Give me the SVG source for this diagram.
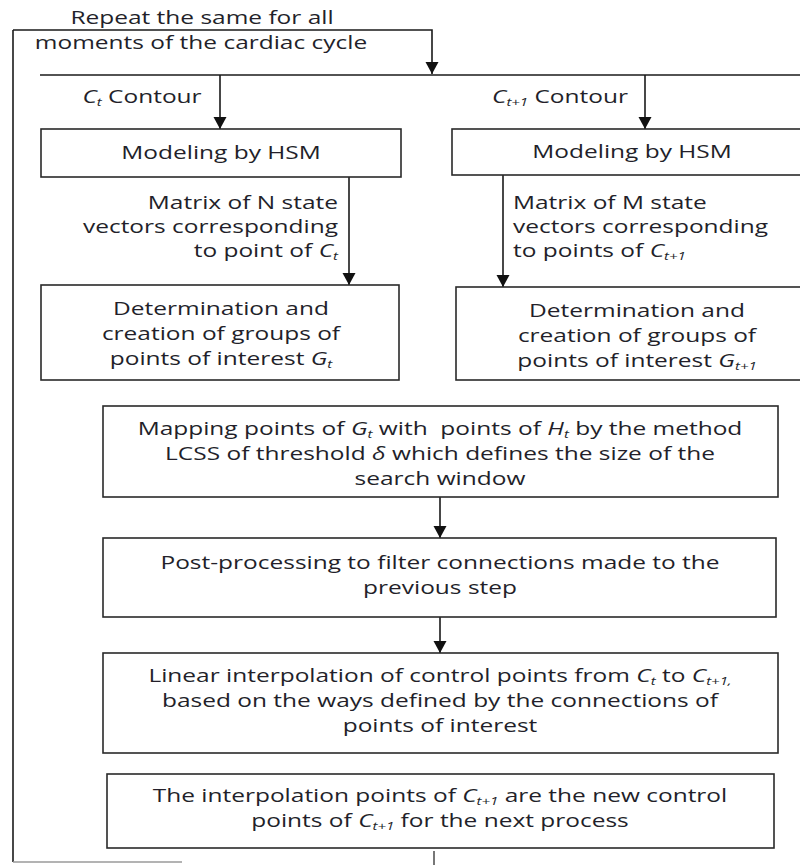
<svg xmlns="http://www.w3.org/2000/svg" width="800" height="865" viewBox="0 0 800 865">
<style>
.box{fill:#fff;stroke:#2a2a2a;stroke-width:1.6}
.ln{fill:none;stroke:#1a1a1a;stroke-width:1.6}
.t{font-family:"Open Sans","DejaVu Sans",sans-serif;font-size:18px;fill:#231f2a}
.m{text-anchor:middle}
.e{text-anchor:end}
.i{font-style:italic}
.s{font-style:italic;font-size:11px;baseline-shift:-3px}
</style>
<defs>
<marker id="ah" markerUnits="userSpaceOnUse" markerWidth="14" markerHeight="14" refX="12" refY="6.5" orient="auto">
<path d="M0,0 L12,6.5 L0,13 z" fill="#111"/>
</marker>
</defs>
<rect width="800" height="865" fill="#fff"/>
<g id="connectors">
<path class="ln" d="M13 30 H432 V74" marker-end="url(#ah)"/>
<path class="ln" d="M13 30 V862"/>
<path d="M13 862 H182" stroke="#9a9a9a" stroke-width="1.6" fill="none"/>
<path class="ln" d="M40 75 H800"/>
<path class="ln" d="M220 75 V129" marker-end="url(#ah)"/>
<path class="ln" d="M645 75 V129" marker-end="url(#ah)"/>
<path class="ln" d="M349 177 V285" marker-end="url(#ah)"/>
<path class="ln" d="M503 175 V287" marker-end="url(#ah)"/>
<path class="ln" d="M440 497 V538" marker-end="url(#ah)"/>
<path class="ln" d="M440 617 V653" marker-end="url(#ah)"/>
<path d="M434 851 V865" stroke="#555" stroke-width="1.6" fill="none"/>
</g>
<g id="loop-label">
<text class="t m" transform="translate(202 24) scale(1.36 1)"><tspan x="0">Repeat the same for all</tspan></text>
<text class="t m" transform="translate(201 49) scale(1.36 1)"><tspan x="0">moments of the cardiac cycle</tspan></text>
</g>
<g id="label-ct">
<text class="t m" transform="translate(142 103) scale(1.36 1)"><tspan class="i">C</tspan><tspan class="s">t</tspan> Contour</text>
</g>
<g id="label-ct1">
<text class="t m" transform="translate(560 103) scale(1.36 1)"><tspan class="i">C</tspan><tspan class="s">t+1</tspan> Contour</text>
</g>
<g id="hsm-left">
<rect class="box" x="41" y="129" width="360" height="48"/>
<text class="t m" transform="translate(221 159) scale(1.36 1)">Modeling by HSM</text>
</g>
<g id="hsm-right">
<rect class="box" x="452" y="129" width="360" height="46"/>
<text class="t m" transform="translate(632 158) scale(1.36 1)">Modeling by HSM</text>
</g>
<g id="label-matrix-n">
<text class="t e" transform="translate(338 209) scale(1.36 1)"><tspan x="0">Matrix of N state</tspan><tspan x="0" dy="24">vectors corresponding</tspan><tspan x="0" dy="24">to point of <tspan class="i">C</tspan><tspan class="s">t</tspan></tspan></text>
</g>
<g id="label-matrix-m">
<text class="t" transform="translate(513 209) scale(1.36 1)"><tspan x="0">Matrix of M state</tspan><tspan x="0" dy="24">vectors corresponding</tspan><tspan x="0" dy="24">to points of <tspan class="i">C</tspan><tspan class="s">t+1</tspan></tspan></text>
</g>
<g id="groups-left">
<rect class="box" x="41" y="285" width="358" height="95"/>
<text class="t m" transform="translate(221 315) scale(1.36 1)"><tspan x="0">Determination and</tspan><tspan x="0" dy="25">creation of groups of</tspan><tspan x="0" dy="25">points of interest <tspan class="i">G</tspan><tspan class="s">t</tspan></tspan></text>
</g>
<g id="groups-right">
<rect class="box" x="456" y="287" width="362" height="93"/>
<text class="t m" transform="translate(637 317) scale(1.36 1)"><tspan x="0">Determination and</tspan><tspan x="0" dy="25">creation of groups of</tspan><tspan x="0" dy="25">points of interest <tspan class="i">G</tspan><tspan class="s">t+1</tspan></tspan></text>
</g>
<g id="mapping">
<rect class="box" x="103" y="406" width="675" height="91"/>
<text class="t m" transform="translate(440 435) scale(1.36 1)"><tspan x="0">Mapping points of <tspan class="i">G</tspan><tspan class="s">t</tspan> with&#160; points of <tspan class="i">H</tspan><tspan class="s">t</tspan> by the method</tspan><tspan x="0" dy="25">LCSS of threshold <tspan class="i">δ</tspan> which defines the size of the</tspan><tspan x="0" dy="25">search window</tspan></text>
</g>
<g id="post-processing">
<rect class="box" x="103" y="538" width="673" height="79"/>
<text class="t m" transform="translate(440 569) scale(1.36 1)"><tspan x="0">Post-processing to filter connections made to the</tspan><tspan x="0" dy="25">previous step</tspan></text>
</g>
<g id="interpolation">
<rect class="box" x="103" y="653" width="675" height="100"/>
<text class="t m" transform="translate(440 682) scale(1.36 1)"><tspan x="0">Linear interpolation of control points from <tspan class="i">C</tspan><tspan class="s">t</tspan> to <tspan class="i">C</tspan><tspan class="s">t+1,</tspan></tspan><tspan x="0" dy="25">based on the ways defined by the connections of</tspan><tspan x="0" dy="25">points of interest</tspan></text>
</g>
<g id="new-control-points">
<rect class="box" x="107" y="774" width="667" height="74"/>
<text class="t m" transform="translate(440 802) scale(1.36 1)"><tspan x="0">The interpolation points of <tspan class="i">C</tspan><tspan class="s">t+1</tspan> are the new control</tspan><tspan x="0" dy="25">points of <tspan class="i">C</tspan><tspan class="s">t+1</tspan> for the next process</tspan></text>
</g>
</svg>
